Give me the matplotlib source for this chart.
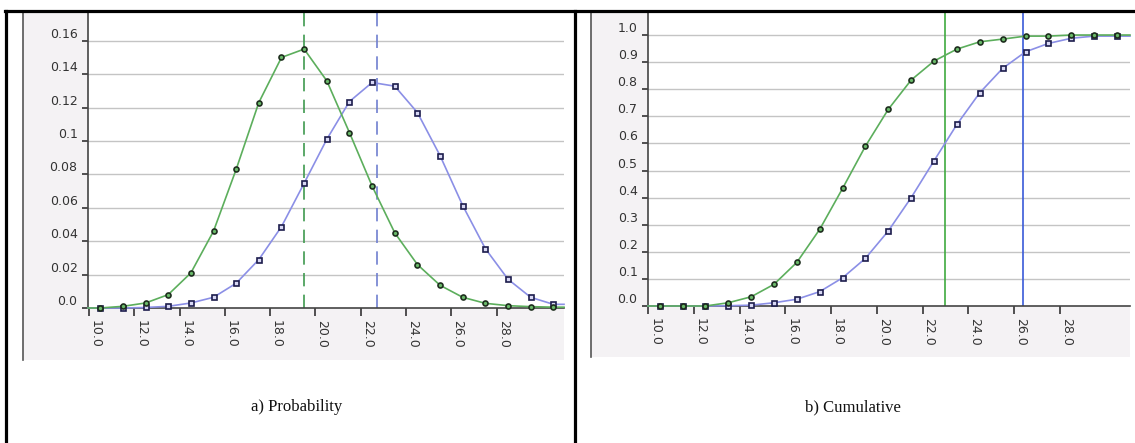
import numpy as np
import matplotlib.pyplot as plt
from matplotlib.lines import Line2D
from matplotlib.patches import Rectangle

W, H = 1135, 443

# Bin centres and values for the two distributions
x_mid = [10.5, 11.5, 12.5, 13.5, 14.5, 15.5, 16.5, 17.5, 18.5, 19.5, 20.5,
         21.5, 22.5, 23.5, 24.5, 25.5, 26.5, 27.5, 28.5, 29.5, 30.5]

prob_green = [0.0, 0.001, 0.003, 0.008, 0.021, 0.046, 0.083, 0.123, 0.150, 0.155, 0.136,
              0.105, 0.073, 0.045, 0.026, 0.0136, 0.0064, 0.0028, 0.0014, 0.0008, 0.0005]
prob_blue = [0.0, 0.0, 0.0003, 0.001, 0.003, 0.0064, 0.0148, 0.029, 0.0487, 0.0747, 0.101,
             0.1236, 0.135, 0.1328, 0.117, 0.0912, 0.0613, 0.0355, 0.0172, 0.0064, 0.0022]

cum_green = [0.0, 0.0, 0.0, 0.012, 0.034, 0.080, 0.161, 0.283, 0.434, 0.590, 0.726,
             0.834, 0.904, 0.948, 0.975, 0.985, 0.996, 0.996, 1.0, 1.0, 1.0]
cum_blue = [0.0, 0.0, 0.0, 0.001, 0.003, 0.012, 0.025, 0.053, 0.104, 0.176, 0.277,
            0.400, 0.536, 0.670, 0.787, 0.877, 0.938, 0.969, 0.988, 0.996, 0.996]

# reference lines
prob_mark_green, prob_mark_blue = 19.5, 22.7
cum_mark_green, cum_mark_blue = 23.0, 26.4

x_ticks = [10, 12, 14, 16, 18, 20, 22, 24, 26, 28]
prob_yticks = [0.0, 0.02, 0.04, 0.06, 0.08, 0.1, 0.12, 0.14, 0.16]
prob_ylabels = ["0.0", "0.02", "0.04", "0.06", "0.08", "0.1", "0.12", "0.14", "0.16"]
cum_yticks = [0.0, 0.1, 0.2, 0.3, 0.4, 0.5, 0.6, 0.7, 0.8, 0.9, 1.0]
cum_ylabels = ["0.0", "0.1", "0.2", "0.3", "0.4", "0.5", "0.6", "0.7", "0.8", "0.9", "1.0"]

GREEN = "#5cae5c"
BLUE = "#8b8fe6"
PANEL_BG = "#f4f2f4"


def fbox(x0, y0, x1, y1):
    # pixel box (top-left origin) -> figure fraction rect
    return [x0 / W, 1 - y1 / H, (x1 - x0) / W, (y1 - y0) / H]


def fx(x):
    return x / W


def fy(y):
    return 1 - y / H


fig = plt.figure(figsize=(W / 100, H / 100), dpi=100)

# chart backgrounds
for (x0, y0, x1, y1) in [(23, 12, 564, 360), (591, 12, 1130, 357)]:
    fig.add_artist(Rectangle((fx(x0), fy(y1)), (x1 - x0) / W, (y1 - y0) / H,
                             transform=fig.transFigure, facecolor=PANEL_BG,
                             edgecolor="none", zorder=0))
    fig.add_artist(Line2D([fx(x0), fx(x0)], [fy(y0), fy(y1)], transform=fig.transFigure,
                          color="#555555", lw=1.2, zorder=1))


def setup(ax, xlim, ylim, yticks, ylabels):
    ax.set_facecolor("white")
    ax.set_xlim(*xlim)
    ax.set_ylim(*ylim)
    for s in ("top", "right"):
        ax.spines[s].set_visible(False)
    for s in ("left", "bottom"):
        ax.spines[s].set_color("#444444")
        ax.spines[s].set_linewidth(1.2)
    ax.set_yticks(yticks)
    ax.set_yticklabels(ylabels)
    ax.set_xticks(x_ticks)
    ax.set_xticklabels([f"{t:.1f}" for t in x_ticks])
    ax.tick_params(axis="y", length=4.5, width=1.2, color="#333333", pad=3,
                   labelsize=9, labelcolor="#333333")
    ax.tick_params(axis="x", length=6, width=1.2, color="#333333", pad=3,
                   labelsize=9, labelcolor="#333333")
    for t in ax.get_yticklabels():
        t.set_verticalalignment("bottom")
    for t in ax.get_xticklabels():
        t.set_rotation(-90)
        t.set_horizontalalignment("left")
        t.set_verticalalignment("top")
    for yv in yticks[1:]:
        ax.axhline(yv, color="#c4c4c4", lw=1.0, zorder=0)


def series(ax, xs, ys, color, marker, mfc, mec, xlim):
    # line runs across the full plot width, markers only at the bin centres
    lx = [xlim[0]] + list(xs) + [xlim[1]]
    ly = [ys[0]] + list(ys) + [ys[-1]]
    ax.plot(lx, ly, color=color, lw=1.2, zorder=3, clip_on=False)
    ax.plot(xs, ys, ls="none", marker=marker, ms=3.6, mfc=mfc, mec=mec, mew=1.2,
            zorder=4, clip_on=False)


# a) probability
xlim_a = (9.96, 30.97)
ax1 = fig.add_axes(fbox(88, 12, 564, 308))
setup(ax1, xlim_a, (0, 0.1772), prob_yticks, prob_ylabels)
ax1.axvline(prob_mark_green, color="#3f9a4f", lw=1.2, ls=(0, (8, 5)), zorder=2)
ax1.axvline(prob_mark_blue, color="#6f7fcf", lw=1.2, ls=(0, (8, 5)), zorder=2)
series(ax1, x_mid, prob_blue, BLUE, "s", "#d8d8f4", "#1c1c4c", xlim_a)
series(ax1, x_mid, prob_green, GREEN, "o", "#6aba6a", "#1e2e1e", xlim_a)

# b) cumulative
xlim_b = (9.99, 31.07)
ax2 = fig.add_axes(fbox(648, 12, 1130, 306))
setup(ax2, xlim_b, (0, 1.085), cum_yticks, cum_ylabels)
ax2.axvline(cum_mark_green, color="#3faa3f", lw=1.2, zorder=2)
ax2.axvline(cum_mark_blue, color="#3a5ad8", lw=1.2, zorder=2)
series(ax2, x_mid, cum_blue, BLUE, "s", "#d8d8f4", "#1c1c4c", xlim_b)
series(ax2, x_mid, cum_green, GREEN, "o", "#6aba6a", "#1e2e1e", xlim_b)

# table borders
border = dict(transform=fig.transFigure, color="black", lw=2.3, zorder=10)
fig.add_artist(Line2D([fx(5), fx(1135)], [fy(11), fy(11)], **border))
fig.add_artist(Line2D([fx(6), fx(6)], [fy(11), fy(443)], **border))
fig.add_artist(Line2D([fx(574.5), fx(574.5)], [fy(11), fy(443)], **border))

# captions
cap = dict(family="Liberation Serif", fontsize=12, ha="center", va="center", color="#111111")
fig.text(fx(297), fy(407), "a) Probability", **cap)
fig.text(fx(853), fy(407), "b) Cumulative", **cap)

fig.savefig("out.png", dpi=100)
